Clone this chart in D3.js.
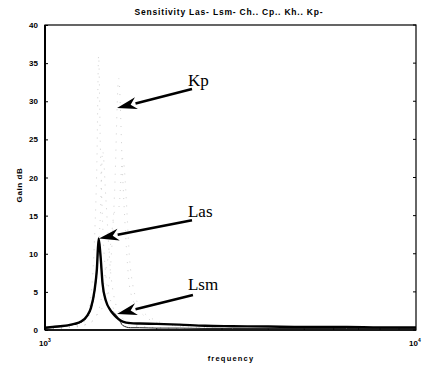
<!DOCTYPE html>
<html>
<head>
<meta charset="utf-8">
<script src="https://cdn.jsdelivr.net/npm/d3@7"></script>
<style>
  html, body { margin: 0; padding: 0; background: #fff; }
  svg { display: block; }
</style>
</head>
<body>
<svg id="chart" width="423" height="366"></svg>
<script>
// Frequency grid (Hz) shared by every sensitivity trace
const freq = [1000, 1050, 1100, 1150, 1200, 1250, 1300, 1330, 1360, 1380, 1395, 1410, 1430, 1460, 1500, 1540, 1580, 1620, 1700, 1800, 2000, 2300, 2700, 3200, 4000, 5000, 6500, 8000, 10000];

// Gain (dB) for each parameter sensitivity
const las = [0.3, 0.4, 0.5, 0.6, 0.8, 1.1, 1.9, 2.9, 5.2, 8.0, 12.0, 10.0, 6.0, 3.8, 2.6, 1.9, 1.4, 1.1, 0.9, 0.85, 0.8, 0.7, 0.55, 0.5, 0.45, 0.4, 0.4, 0.35, 0.35];
const lsm = [0.25, 0.35, 0.45, 0.55, 0.75, 1.0, 1.8, 2.8, 5.0, 7.8, 11.8, 9.8, 5.9, 3.8, 2.7, 2.2, 1.5, 0.6, 0.3, 0.3, 0.25, 0.25, 0.2, 0.2, 0.2, 0.2, 0.2, 0.2, 0.2];
const ch  = [0.2, 0.2, 0.3, 0.4, 0.6, 1.0, 2.0, 4.5, 12.0, 22.0, 36.0, 24.0, 14.0, 7.0, 4.0, 2.5, 1.5, 1.0, 0.6, 0.4, 0.3, 0.2, 0.2, 0.2, 0.2, 0.2, 0.2, 0.2, 0.2];
const cp  = [0.2, 0.2, 0.3, 0.4, 0.5, 0.8, 1.5, 2.5, 5.0, 8.0, 11.0, 15.0, 23.5, 17.0, 8.0, 4.0, 2.5, 1.5, 0.8, 0.5, 0.3, 0.2, 0.2, 0.2, 0.2, 0.2, 0.2, 0.2, 0.2];
const kh  = [0.2, 0.2, 0.2, 0.3, 0.4, 0.5, 0.8, 1.0, 1.5, 2.0, 2.5, 3.5, 5.0, 8.0, 11.0, 15.5, 16.0, 22.5, 8.0, 3.0, 1.2, 0.5, 0.3, 0.2, 0.2, 0.2, 0.2, 0.2, 0.2];
const kp  = [0.2, 0.2, 0.2, 0.3, 0.4, 0.5, 0.8, 1.0, 1.5, 2.0, 2.3, 2.5, 3.0, 4.0, 8.0, 18.0, 33.0, 20.0, 5.0, 2.5, 1.0, 0.5, 0.3, 0.2, 0.2, 0.2, 0.2, 0.2, 0.2];

// Axis ticks
const yTicks = [0, 5, 10, 15, 20, 25, 30, 35, 40];
const xDecades = [1000, 10000];
const xDecadeLabels = ["10", "10"];
const xDecadeExp = ["3", "4"];

// Callouts: label text, arrow tip and tail in (Hz, dB)
const calloutNames = ["Kp", "Las", "Lsm"];
const calloutTipF = [1564, 1398, 1564];
const calloutTipG = [29.1, 12.0, 2.1];
const calloutTailF = [2490, 2490, 2505];
const calloutTailG = [31.6, 14.4, 4.6];
const calloutTextF = [2429, 2429, 2429];
const calloutTextG = [32.0, 14.8, 5.2];

const titleText = "Sensitivity Las- Lsm- Ch.. Cp.. Kh.. Kp-";
const xTitle = "frequency";
const yTitle = "Gain dB";

const svg = d3.select("#chart");
const plotL = 45, plotR = 416, plotT = 25, plotB = 330;

const x = d3.scaleLog().domain([1000, 10000]).range([plotL, plotR]);
const y = d3.scaleLinear().domain([0, 40]).range([plotB, plotT]);

const line = d3.line()
  .x((d, i) => x(freq[i]))
  .y(d => y(d))
  .curve(d3.curveMonotoneX);

// Faint dotted traces
const dotted = [ch, cp, kh, kp];
dotted.forEach(s => {
  svg.append("path")
    .attr("d", line(s))
    .attr("fill", "none")
    .attr("stroke", "#c4c4c4")
    .attr("stroke-width", 0.8)
    .attr("stroke-dasharray", "1 7");
});

// Lsm thin trace
svg.append("path")
  .attr("d", line(lsm))
  .attr("fill", "none")
  .attr("stroke", "#222")
  .attr("stroke-width", 1);

// Las bold trace
svg.append("path")
  .attr("d", line(las))
  .attr("fill", "none")
  .attr("stroke", "#000")
  .attr("stroke-width", 2.4)
  .attr("stroke-linejoin", "round");

// Plot frame
svg.append("rect")
  .attr("x", plotL).attr("y", plotT)
  .attr("width", plotR - plotL).attr("height", plotB - plotT)
  .attr("fill", "none").attr("stroke", "#000").attr("stroke-width", 1.2);
svg.append("line")
  .attr("x1", plotL).attr("x2", plotL).attr("y1", plotT).attr("y2", plotB)
  .attr("stroke", "#000").attr("stroke-width", 2);
svg.append("line")
  .attr("x1", plotL).attr("x2", plotR).attr("y1", plotB).attr("y2", plotB)
  .attr("stroke", "#000").attr("stroke-width", 1.6);

// Y axis ticks and labels
const yAxis = d3.axisLeft(y).tickValues(yTicks).tickSizeInner(-3).tickSizeOuter(0).tickPadding(7);
const gy = svg.append("g").attr("transform", `translate(${plotL},0)`).call(yAxis);
gy.select(".domain").remove();
gy.selectAll("text")
  .attr("font-family", "Liberation Sans, Arial, sans-serif")
  .attr("font-size", 8).attr("font-weight", "bold").attr("fill", "#000");
// right-side ticks
svg.append("g").selectAll("line").data(yTicks).join("line")
  .attr("x1", plotR).attr("x2", plotR - 3)
  .attr("y1", d => y(d)).attr("y2", d => y(d))
  .attr("stroke", "#000");

// X axis minor ticks inside the frame
const minor = d3.range(2, 10).map(k => k * 1000);
svg.append("g").selectAll("line").data(minor).join("line")
  .attr("x1", d => x(d)).attr("x2", d => x(d))
  .attr("y1", plotB).attr("y2", plotB - 2)
  .attr("stroke", "#000").attr("stroke-width", 0.7);

// X decade labels with exponents
const xl = svg.append("g").selectAll("text").data(xDecades).join("text")
  .attr("x", (d, i) => x(d) + (i === 0 ? -6 : -7))
  .attr("y", 346)
  .attr("font-family", "Liberation Sans, Arial, sans-serif")
  .attr("font-size", 8).attr("font-weight", "bold")
  .attr("fill", "#000");
xl.append("tspan").text((d, i) => xDecadeLabels[i]);
xl.append("tspan").attr("dy", -4).attr("font-size", 5).text((d, i) => xDecadeExp[i]);

// Titles
svg.append("text")
  .attr("x", 229).attr("y", 15)
  .attr("text-anchor", "middle")
  .attr("font-family", "Liberation Sans, Arial, sans-serif")
  .attr("font-size", 8.5).attr("font-weight", "bold")
  .attr("letter-spacing", 0.8)
  .text(titleText);
svg.append("text")
  .attr("x", 231).attr("y", 361)
  .attr("text-anchor", "middle")
  .attr("font-family", "Liberation Sans, Arial, sans-serif")
  .attr("font-size", 7.5).attr("font-weight", "bold")
  .attr("letter-spacing", 1.2)
  .text(xTitle);
svg.append("text")
  .attr("transform", "translate(22,185) rotate(-90)")
  .attr("text-anchor", "middle")
  .attr("font-family", "Liberation Sans, Arial, sans-serif")
  .attr("font-size", 8).attr("font-weight", "bold")
  .attr("letter-spacing", 0.6)
  .text(yTitle);

// Callout arrows
calloutNames.forEach((name, i) => {
  const tx = x(calloutTipF[i]), ty = y(calloutTipG[i]);
  const sx = x(calloutTailF[i]), sy = y(calloutTailG[i]);
  const ang = Math.atan2(ty - sy, tx - sx);
  const hl = 19, hw = 6;
  const bx = tx - hl * Math.cos(ang), by = ty - hl * Math.sin(ang);
  svg.append("line")
    .attr("x1", sx).attr("y1", sy).attr("x2", bx).attr("y2", by)
    .attr("stroke", "#000").attr("stroke-width", 2.6);
  const px = -Math.sin(ang), py = Math.cos(ang);
  const nx = bx + 5 * Math.cos(ang), ny = by + 5 * Math.sin(ang);
  svg.append("path")
    .attr("d", `M${tx},${ty} L${bx - 1 * Math.cos(ang) + px * hw},${by - 1 * Math.sin(ang) + py * hw} L${nx},${ny} L${bx - 1 * Math.cos(ang) - px * hw},${by - 1 * Math.sin(ang) - py * hw} Z`)
    .attr("fill", "#000");
  svg.append("text")
    .attr("x", x(calloutTextF[i])).attr("y", y(calloutTextG[i]))
    .attr("font-family", "Liberation Serif, Times New Roman, serif")
    .attr("font-size", 17)
    .attr("fill", "#000")
    .text(name);
});
</script>
</body>
</html>
